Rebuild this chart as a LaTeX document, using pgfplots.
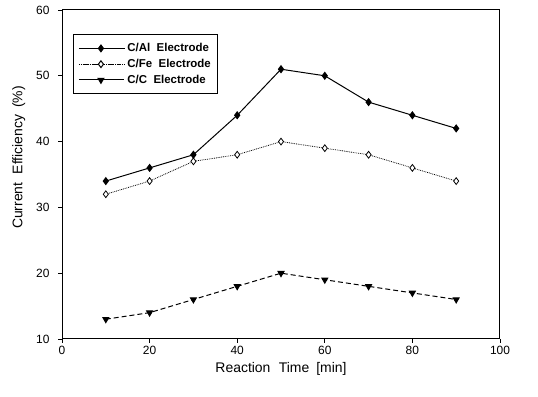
\documentclass[border=0pt]{standalone}
\usepackage{pgfplots}
\pgfplotsset{compat=1.18}
\usepackage{fontspec}
\setmainfont{Liberation Sans}
\begin{document}
\begin{tikzpicture}[x=1bp,y=1bp]
\begin{axis}[
  scale only axis,
  clip=false,
  width=438bp, height=329bp,
  xmin=0, xmax=100, ymin=10, ymax=60,
  xtick={0,20,40,60,80,100},
  ytick={10,20,30,40,50,60},
  tick align=outside,
  xtick pos=bottom, ytick pos=left,
  major tick length=4bp,
  tick style={black, line width=0.7pt},
  axis line style={line width=1pt},
  /pgf/number format/assume math mode=true,
  ticklabel style={font=\fontsize{12}{13}\selectfont},
  yticklabel style={xshift=-5bp},
  xlabel={Reaction\hspace{0.6em}Time\hspace{0.5em}[min]},
  ylabel={Current\hspace{0.6em}Efficiency\hspace{0.5em}(\%)},
  label style={font=\fontsize{14}{16}\selectfont},
  xlabel style={yshift=-1bp},
  ylabel style={yshift=4bp, xshift=17bp},
  legend style={at={(rel axis cs:0.025,0.927)}, anchor=north west,
    font=\fontsize{11.5}{14}\selectfont\bfseries, draw=black, line width=1pt,
    inner xsep=5bp, inner ysep=7bp, row sep=2bp},
  legend cell align=left,
  legend image code/.code={%
    \path (-4bp,0bp) -- (42bp,0bp);
    \draw[mark repeat=2,mark phase=2,#1] plot coordinates {(0bp,0bp) (18bp,0bp) (36bp,0bp)};},
  legend image post style={line width=1pt},
]
\addplot[black, line width=1pt, mark=diamond*, mark options={solid, fill=black, scale=1.7}]
  coordinates {(10,34) (20,36) (30,38) (40,44) (50,51) (60,50) (70,46) (80,44) (90,42)};
\addlegendentry{C/Al\ \ Electrode}
\addplot[black, line width=0.8pt, densely dotted, mark=diamond*, mark options={solid, fill=white, scale=1.7}]
  coordinates {(10,32) (20,34) (30,37) (40,38) (50,40) (60,39) (70,38) (80,36) (90,34)};
\addlegendentry{C/Fe\ \ Electrode}
\addplot[black, line width=1pt, dash pattern=on 5pt off 3pt, mark=triangle*, mark options={solid, fill=black, rotate=180, scale=1.7}]
  coordinates {(10,13) (20,14) (30,16) (40,18) (50,20) (60,19) (70,18) (80,17) (90,16)};
\addlegendentry{C/C\ \ Electrode}
\path (rel axis cs:-0.1416,-0.1763) rectangle (rel axis cs:1.0868,1.0304);
\end{axis}
\end{tikzpicture}
\end{document}
